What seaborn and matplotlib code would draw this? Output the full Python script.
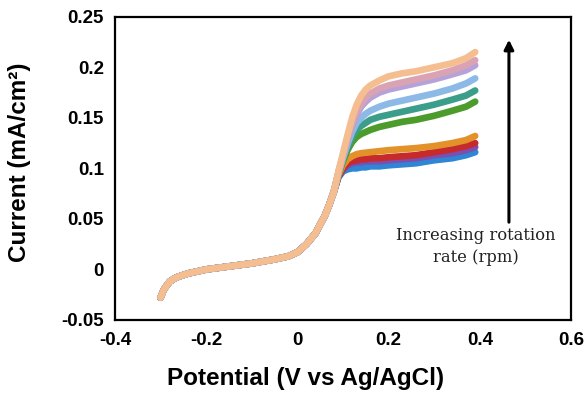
import matplotlib
matplotlib.use("Agg")
import matplotlib.pyplot as plt
import seaborn as sns
import pandas as pd

# Potential grid (V vs Ag/AgCl)
potential_common = [-0.300, -0.295, -0.290, -0.285, -0.280, -0.270, -0.260,
                    -0.240, -0.220, -0.200, -0.150, -0.100, -0.050, -0.020,
                    0.000, 0.020, 0.040, 0.060, 0.070, 0.080]
potential_tail = [0.09, 0.10, 0.11, 0.12, 0.13, 0.14, 0.15, 0.16, 0.18, 0.20,
                  0.23, 0.26, 0.30, 0.34, 0.37, 0.39]

# Kinetic region shared by every rotation rate (mA/cm2)
current_common = [-0.028, -0.022, -0.018, -0.015, -0.012, -0.009, -0.007,
                  -0.004, -0.002, 0.000, 0.003, 0.006, 0.010, 0.013,
                  0.017, 0.025, 0.036, 0.053, 0.064, 0.077]

# Mass-transport limited region, one list per rotation rate (low -> high)
blue = [0.091, 0.097, 0.099, 0.100, 0.100, 0.101, 0.101, 0.102, 0.102, 0.103,
        0.104, 0.105, 0.108, 0.110, 0.113, 0.116]
purple = [0.092, 0.099, 0.103, 0.105, 0.106, 0.106, 0.107, 0.107, 0.107, 0.108,
          0.109, 0.110, 0.113, 0.115, 0.118, 0.121]
red = [0.092, 0.100, 0.105, 0.107, 0.108, 0.109, 0.109, 0.110, 0.110, 0.111,
       0.112, 0.113, 0.116, 0.119, 0.122, 0.125]
orange = [0.093, 0.103, 0.109, 0.112, 0.114, 0.115, 0.1155, 0.116, 0.117, 0.118,
          0.119, 0.120, 0.122, 0.125, 0.128, 0.132]
green = [0.094, 0.107, 0.118, 0.126, 0.131, 0.134, 0.136, 0.138, 0.141, 0.143,
         0.146, 0.148, 0.152, 0.157, 0.161, 0.166]
teal = [0.095, 0.109, 0.121, 0.131, 0.138, 0.142, 0.145, 0.148, 0.151, 0.153,
        0.156, 0.159, 0.163, 0.168, 0.172, 0.177]
light_blue = [0.095, 0.110, 0.124, 0.136, 0.145, 0.150, 0.154, 0.157, 0.161,
              0.164, 0.167, 0.170, 0.174, 0.179, 0.184, 0.189]
lavender = [0.096, 0.112, 0.128, 0.142, 0.153, 0.161, 0.166, 0.170, 0.175,
            0.178, 0.181, 0.184, 0.188, 0.193, 0.197, 0.202]
pink = [0.096, 0.113, 0.130, 0.145, 0.156, 0.164, 0.170, 0.174, 0.179, 0.182,
        0.185, 0.188, 0.192, 0.197, 0.202, 0.207]
light_orange = [0.097, 0.115, 0.133, 0.150, 0.163, 0.172, 0.178, 0.182, 0.187,
                0.191, 0.194, 0.196, 0.200, 0.204, 0.209, 0.215]

series = [
    ("s1", blue, "#2E86D4"),
    ("s2", purple, "#7A4FB0"),
    ("s3", red, "#C62A2C"),
    ("s4", orange, "#E3922A"),
    ("s5", green, "#4C9C2C"),
    ("s6", teal, "#3A9E8A"),
    ("s7", light_blue, "#8CB9E6"),
    ("s8", lavender, "#B5A2D8"),
    ("s9", pink, "#D9A3B3"),
    ("s10", light_orange, "#F4BE90"),
]

rows = []
for name, tail, _ in series:
    xs = potential_common + potential_tail
    ys = current_common + tail
    for x, y in zip(xs, ys):
        rows.append({"potential": x, "current": y, "run": name})
df = pd.DataFrame(rows)
palette = {name: col for name, _, col in series}

sns.set_theme(style="white")
plt.rcParams["font.family"] = ["Liberation Sans", "DejaVu Sans"]

fig = plt.figure(figsize=(5.88, 3.95), dpi=100)
ax = fig.add_axes([0.1956, 0.1899, 0.7754, 0.7678])

sns.lineplot(data=df, x="potential", y="current", hue="run",
             hue_order=[s[0] for s in series], palette=palette,
             linewidth=4.8, legend=False, ax=ax, sort=True,
             solid_capstyle="round", solid_joinstyle="round", estimator=None)

ax.set_xlim(-0.4, 0.6)
ax.set_ylim(-0.05, 0.25)
ax.set_xticks([-0.4, -0.2, 0, 0.2, 0.4, 0.6])
ax.set_xticklabels(["-0.4", "-0.2", "0", "0.2", "0.4", "0.6"])
ax.set_yticks([-0.05, 0, 0.05, 0.1, 0.15, 0.2, 0.25])
ax.set_yticklabels(["-0.05", "0", "0.05", "0.1", "0.15", "0.2", "0.25"])

for sp in ax.spines.values():
    sp.set_color("black")
    sp.set_linewidth(1.6)
ax.tick_params(axis="both", direction="out", length=5, width=1.6,
               color="black", labelsize=13.5, pad=3, labelcolor="black")
ax.tick_params(axis="x", pad=4)
for lab in ax.get_xticklabels() + ax.get_yticklabels():
    lab.set_fontweight("bold")

ax.set_xlabel("Potential (V vs Ag/AgCl)", fontsize=17.5, fontweight="bold",
              color="black")
ax.set_ylabel("Current (mA/cm²)", fontsize=17.5, fontweight="bold",
              color="black")
ax.xaxis.set_label_coords(0.419, -0.155)
ax.yaxis.set_label_coords(-0.184, 0.521)

ax.annotate("", xy=(0.464, 0.230), xytext=(0.464, 0.044),
            arrowprops=dict(arrowstyle="-|>", color="black", lw=2.2,
                            mutation_scale=14))
ax.text(0.391, 0.0225, "Increasing rotation\nrate (rpm)", ha="center",
        va="center", fontsize=11.8, family="DejaVu Serif", color="#222222",
        linespacing=1.4)

fig.savefig("out.png", dpi=100)
